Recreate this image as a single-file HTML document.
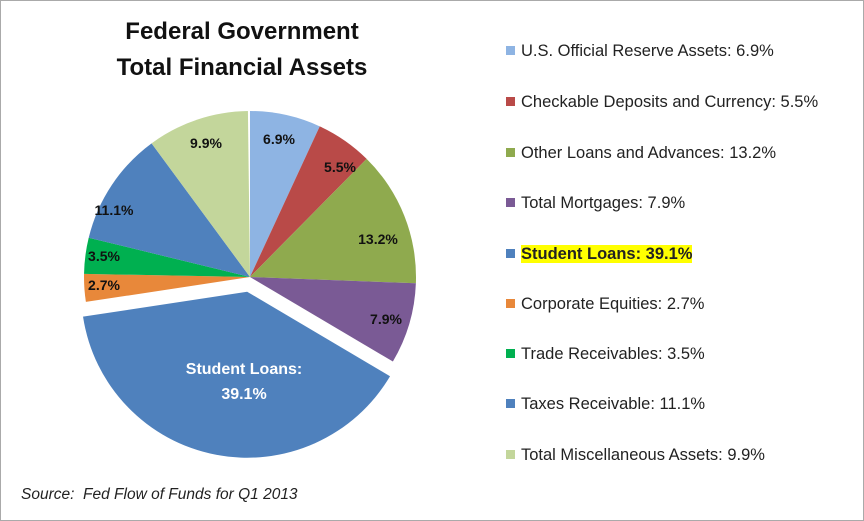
<!DOCTYPE html>
<html><head><meta charset="utf-8"><style>
body{margin:0;background:#fff;}
#w{position:relative;width:862px;height:519px;border:1px solid #aaa;overflow:hidden;font-family:"Liberation Sans",sans-serif;}
.t{position:absolute;left:0;width:482px;text-align:center;font-weight:bold;font-size:24px;color:#111;}
.lg{position:absolute;left:505px;font-size:16.5px;color:#222;white-space:nowrap;}
.lg i{display:inline-block;width:9px;height:9px;margin-right:6px;vertical-align:1px;}
</style></head><body><div id="w">
<div class="t" style="top:17px">Federal Government</div>
<div class="t" style="top:53px">Total Financial Assets</div>
<svg id="s" width="864" height="521" style="position:absolute;left:0;top:0"></svg>
<div class="lg" style="top:41px"><i style="background:#8EB4E3"></i>U.S. Official Reserve Assets: 6.9%</div>
<div class="lg" style="top:92px"><i style="background:#B94A48"></i>Checkable Deposits and Currency: 5.5%</div>
<div class="lg" style="top:143px"><i style="background:#8FAA4E"></i>Other Loans and Advances: 13.2%</div>
<div class="lg" style="top:193px"><i style="background:#7A5A95"></i>Total Mortgages: 7.9%</div>
<div class="lg" style="top:244px"><i style="background:#4F81BD"></i><span style="background:#FFFF00;font-weight:bold">Student Loans: 39.1%</span></div>
<div class="lg" style="top:294px"><i style="background:#E8883A"></i>Corporate Equities: 2.7%</div>
<div class="lg" style="top:344px"><i style="background:#00B050"></i>Trade Receivables: 3.5%</div>
<div class="lg" style="top:394px"><i style="background:#4F81BD"></i>Taxes Receivable: 11.1%</div>
<div class="lg" style="top:445px"><i style="background:#C3D69B"></i>Total Miscellaneous Assets: 9.9%</div>
<div style="position:absolute;left:20px;top:485px;font-size:15.5px;font-style:italic;color:#222">Source:&nbsp; Fed Flow of Funds for Q1 2013</div>
</div>
<script>
var d=[[6.9,"#8EB4E3"],[5.5,"#B94A48"],[13.2,"#8FAA4E"],[7.9,"#7A5A95"],[39.1,"#4F81BD"],[2.7,"#E8883A"],[3.5,"#00B050"],[11.1,"#4F81BD"],[9.9,"#C3D69B"]];
var cx=249,cy=276,r=166,a=0,h="";
for(var i=0;i<d.length;i++){var s=a,e=a+d[i][0]*3.6;a=e;var ox=0,oy=0;
if(i==4){var m=(s+e)/2*Math.PI/180;ox=15*Math.sin(m);oy=-15*Math.cos(m);}
var x=cx+ox,y=cy+oy,sr=s*Math.PI/180,er=e*Math.PI/180;
h+='<path d="M'+x+' '+y+'L'+(x+r*Math.sin(sr))+' '+(y-r*Math.cos(sr))+'A'+r+' '+r+' 0 '+((e-s)>180?1:0)+' 1 '+(x+r*Math.sin(er))+' '+(y-r*Math.cos(er))+'Z" fill="'+d[i][1]+'"/>';}
var L=[["6.9%",278,143],["5.5%",339,171],["13.2%",377,243],["7.9%",385,323],["11.1%",113,214],["3.5%",103,260],["2.7%",103,289],["9.9%",205,147]];
L.forEach(function(l){h+='<text x="'+l[1]+'" y="'+l[2]+'" text-anchor="middle" font-family="Liberation Sans" font-weight="bold" font-size="14" fill="#111">'+l[0]+'</text>';});
h+='<text x="243" y="373" text-anchor="middle" font-family="Liberation Sans" font-weight="bold" font-size="16" fill="#fff">Student Loans:</text><text x="243" y="398" text-anchor="middle" font-family="Liberation Sans" font-weight="bold" font-size="16" fill="#fff">39.1%</text>';
document.getElementById("s").innerHTML=h;
</script>
</body></html>
